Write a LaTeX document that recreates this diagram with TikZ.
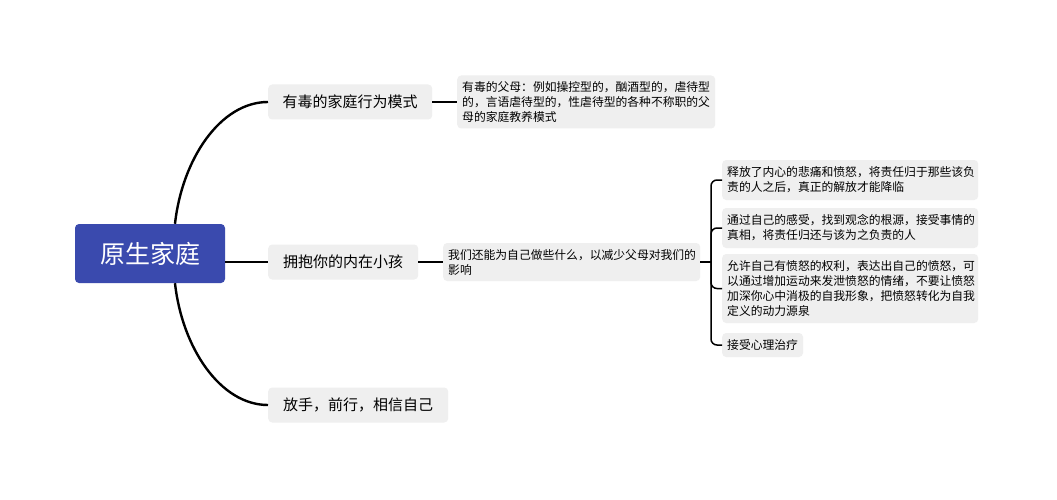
\documentclass[tikz,border=0pt]{standalone}
\usepackage{fontspec}
\setmainfont{Noto Sans CJK SC}
\definecolor{rootblue}{RGB}{58,74,174}
\definecolor{boxgray}{RGB}{239,239,239}
\tikzset{
  rootbox/.style={fill=rootblue, text=white, rounded corners=4pt,
    minimum width=150pt, minimum height=59pt, font=\fontsize{25}{30}\selectfont},
  topicbox/.style={fill=boxgray, rounded corners=4pt, anchor=west,
    minimum height=35pt, inner xsep=14pt, font=\fontsize{15}{18}\selectfont},
  notebox/.style={fill=boxgray, rounded corners=4pt, anchor=west, align=left,
    inner xsep=5pt, inner ysep=4pt, font=\fontsize{11.8}{15}\selectfont},
  branchline/.style={line width=2.4pt, black},
  noteline/.style={line width=1.8pt, black},
}
\begin{document}
\begin{tikzpicture}[x=1pt,y=-1pt]
\useasboundingbox[fill=white] (0,0) rectangle (1057,500);
% main topic
\node[rootbox] (root) at (150,253.5) {原生家庭};
% branches
\node[topicbox, minimum width=164pt] (toxic) at (268,102) {有毒的家庭行为模式};
\node[topicbox, minimum width=150pt] (inner) at (268,262) {拥抱你的内在小孩};
\node[topicbox, minimum width=180pt] (letgo) at (268,405) {放手，前行，相信自己};
% notes
\node[notebox, text width=248pt, minimum height=53pt] (toxicnote) at (457,102)
  {有毒的父母：例如操控型的，酗酒型的，虐待型\\的，言语虐待型的，性虐待型的各种不称职的父\\母的家庭教养模式};
\node[notebox, text width=247pt, minimum height=38pt] (innernote) at (443,262)
  {我们还能为自己做些什么，以减少父母对我们的\\影响};
\node[notebox, text width=246pt, minimum height=40pt] (leafa) at (722,180)
  {释放了内心的悲痛和愤怒，将责任归于那些该负\\责的人之后，真正的解放才能降临};
\node[notebox, text width=246pt, minimum height=40pt] (leafb) at (722,228)
  {通过自己的感受，找到观念的根源，接受事情的\\真相，将责任归还与该为之负责的人};
\node[notebox, text width=246pt, minimum height=69pt] (leafc) at (722,288.5)
  {允许自己有愤怒的权利，表达出自己的愤怒，可\\以通过增加运动来发泄愤怒的情绪，不要让愤怒\\加深你心中消极的自我形象，把愤怒转化为自我\\定义的动力源泉};
\node[notebox, minimum height=24pt] (leafd) at (722,345) {接受心理治疗};
% connectors
\coordinate (roottop) at ([xshift=25pt]root.north);
\coordinate (rootbot) at ([xshift=25pt]root.south);
\draw[branchline] (roottop) .. controls +(7,-64) and +(-48,0) .. (toxic.west);
\draw[branchline] (root.east |- inner.west) -- (inner.west);
\draw[branchline] (rootbot) .. controls +(7,64) and +(-48,0) .. (letgo.west);
\draw[noteline] (toxic.east) -- (toxicnote.west);
\draw[noteline] (inner.east) -- (innernote.west);
\coordinate (brace) at (711,262);
\draw[noteline] (innernote.east) -- (brace);
\foreach \leaf in {leafa,leafb,leafc,leafd}
  \draw[noteline, line width=1.5pt, rounded corners=6pt] (brace) |- (\leaf.west);
\end{tikzpicture}
\end{document}
